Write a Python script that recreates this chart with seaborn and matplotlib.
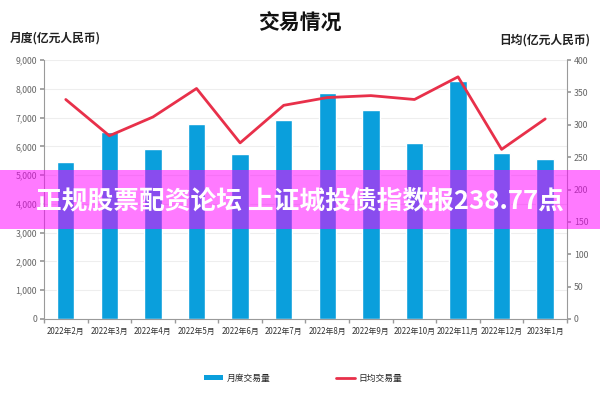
import matplotlib
matplotlib.use("Agg")
import matplotlib.pyplot as plt
from matplotlib.patches import Patch, Rectangle
from matplotlib.lines import Line2D
from matplotlib.ticker import FuncFormatter, FixedLocator
import seaborn as sns
import numpy as np
import pandas as pd

months = ["2022年2月", "2022年3月", "2022年4月", "2022年5月", "2022年6月", "2022年7月",
          "2022年8月", "2022年9月", "2022年10月", "2022年11月", "2022年12月", "2023年1月"]
monthly_volume = [5440, 6500, 5915, 6775, 5740, 6925, 7840, 7260, 6100, 8280, 5765, 5543]
daily_volume = [339, 283, 312, 356, 272, 330, 342, 345, 339, 374, 262, 309]

title = "交易情况"
left_label = "月度(亿元人民币)"
right_label = "日均(亿元人民币)"
bar_name = "月度交易量"
line_name = "日均交易量"
banner_text = "正规股票配资论坛 上证城投债指数报238.77点"

sns.set_theme(style="white")
plt.rcParams['font.family'] = ['Noto Sans CJK SC', 'DejaVu Sans']

df = pd.DataFrame({"month": months, "monthly": monthly_volume, "daily": daily_volume})

bar_color = "#0a9fdc"
line_color = "#e8304a"
grey = "#9a9a9a"

fig = plt.figure(figsize=(6, 4), dpi=100)
ax = fig.add_axes([0.0733, 0.2025, 0.8717, 0.6475])
ax2 = ax.twinx()

sns.barplot(data=df, x="month", y="monthly", color=bar_color, width=0.4,
            saturation=1, ax=ax, zorder=2)
sns.lineplot(data=df, x="month", y="daily", color=line_color, linewidth=2,
             sort=False, ax=ax2, zorder=3)

ax.set_ylim(0, 9000)
ax.set_yticks(np.arange(0, 9001, 1000))
ax.yaxis.set_major_formatter(FuncFormatter(lambda v, p: f"{int(v):,}"))
ax2.set_ylim(0, 400)
ax2.set_yticks(np.arange(0, 401, 50))
ax.set_xlim(-0.5, len(months) - 0.5)

ax.grid(axis="y", color="#eeeeee", linewidth=0.8, zorder=0)
ax.set_axisbelow(True)
ax.set_xlabel("")
ax.set_ylabel("")
ax2.set_xlabel("")
ax2.set_ylabel("")

for a in (ax, ax2):
    for s in a.spines.values():
        s.set_visible(False)
ax.spines["left"].set_visible(True)
ax.spines["bottom"].set_visible(True)
ax2.spines["right"].set_visible(True)
for s in (ax.spines["left"], ax.spines["bottom"], ax2.spines["right"]):
    s.set_color(grey)
    s.set_linewidth(0.8)

ax.tick_params(axis="y", which="both", left=True, length=3, color=grey, labelsize=6.3,
               labelcolor="#666666", pad=2)
ax2.tick_params(axis="y", right=True, length=3, color=grey, labelsize=6.3,
                labelcolor="#666666", pad=2)
ax.tick_params(axis="x", which="major", length=0, labelsize=5.7, labelcolor="#333333", pad=6)
ax.xaxis.set_minor_locator(FixedLocator(np.arange(-0.5, len(months), 1)))
ax.tick_params(axis="x", which="minor", bottom=True, length=3, color=grey)

fig.text(0.5, 0.943, title, ha="center", va="center", fontsize=15, fontweight="bold",
         color="#111111")
fig.text(0.017, 0.905, left_label, ha="left", va="center", fontsize=8.5, fontweight="bold",
         color="#222222")
fig.text(0.983, 0.9, right_label, ha="right", va="center", fontsize=8.5, fontweight="bold",
         color="#222222")

handles = [Patch(facecolor=bar_color, edgecolor="none"),
           Line2D([0], [0], color=line_color, linewidth=2)]
fig.legend(handles, [bar_name, line_name], loc="center", bbox_to_anchor=(0.505, 0.055),
           ncol=2, frameon=False, fontsize=6.3, handlelength=2.2, handleheight=0.5,
           columnspacing=7.5, handletextpad=0.4)

# banner overlay
fig.patches.append(Rectangle((0, 1 - 229 / 400), 1, 59 / 400, transform=fig.transFigure,
                             facecolor="#ff00ff", alpha=0.52, edgecolor="none", zorder=10))
fig.text(0.5, 1 - 201 / 400, banner_text, ha="center", va="center", fontsize=18.5,
         fontweight="bold", color="white", zorder=11)

fig.savefig("out.png", dpi=100)
